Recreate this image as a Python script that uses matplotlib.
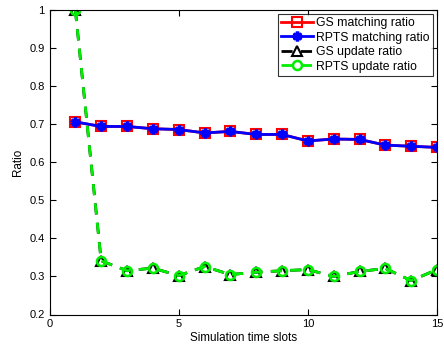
import matplotlib
matplotlib.use("Agg")
import matplotlib.pyplot as plt

plt.rcParams['font.family'] = ['Liberation Sans', 'DejaVu Sans']

slots = list(range(1, 16))
gs_match = [0.706, 0.694, 0.694, 0.688, 0.686, 0.677, 0.681, 0.673, 0.673, 0.656, 0.661, 0.660, 0.645, 0.642, 0.639]
rpts_match = [0.706, 0.694, 0.694, 0.688, 0.686, 0.677, 0.681, 0.673, 0.673, 0.656, 0.661, 0.660, 0.645, 0.642, 0.639]
gs_update = [1.0, 0.341, 0.315, 0.322, 0.302, 0.326, 0.305, 0.311, 0.315, 0.318, 0.300, 0.313, 0.321, 0.289, 0.318]
rpts_update = [1.0, 0.341, 0.315, 0.322, 0.302, 0.326, 0.305, 0.311, 0.315, 0.318, 0.300, 0.313, 0.321, 0.289, 0.318]

fig = plt.figure(figsize=(4.44, 3.47), dpi=100)
L, R, T, B = 49.5, 437, 10, 314.5
ax = fig.add_axes([L/444, 1 - B/347, (R-L)/444, (B-T)/347])

ax.plot(slots, gs_match, color='red', lw=2, marker='s', ms=6.5, mfc='none', mec='red', mew=1.5, label='GS matching ratio')
ax.plot(slots, rpts_match, color='blue', lw=2, marker=(6, 2, 0), ms=7, mec='blue', mew=2.5, label='RPTS matching ratio')
ax.plot(slots, gs_update, color='black', lw=2, ls='--', dashes=(4, 3), marker='^', ms=7, mfc='none', mec='black', mew=1.5, label='GS update ratio')
ax.plot(slots, rpts_update, color='#00ee00', lw=2, ls='--', dashes=(4, 3), marker='o', ms=6.5, mfc='none', mec='#00ee00', mew=1.8, label='RPTS update ratio')

ax.set_xlim(0, 15)
ax.set_ylim(0.2, 1.0)
ax.set_xticks([0, 5, 10, 15])
ax.set_yticks([0.2, 0.3, 0.4, 0.5, 0.6, 0.7, 0.8, 0.9, 1.0])
ax.set_yticklabels(['0.2', '0.3', '0.4', '0.5', '0.6', '0.7', '0.8', '0.9', '1'])
ax.tick_params(direction='in', top=True, right=True, labelsize=8, length=4)
ax.set_xlabel('Simulation time slots', fontsize=8.4, labelpad=2)
ax.set_ylabel('Ratio', fontsize=8.4, labelpad=4)

leg = ax.legend(loc='upper right', fontsize=8.8, frameon=True, fancybox=False, edgecolor='black',
                borderpad=0.25, labelspacing=0.2, handlelength=2.6, handletextpad=0.3, borderaxespad=0.35)
leg.get_frame().set_linewidth(0.8)

fig.savefig('out.png', dpi=100)
